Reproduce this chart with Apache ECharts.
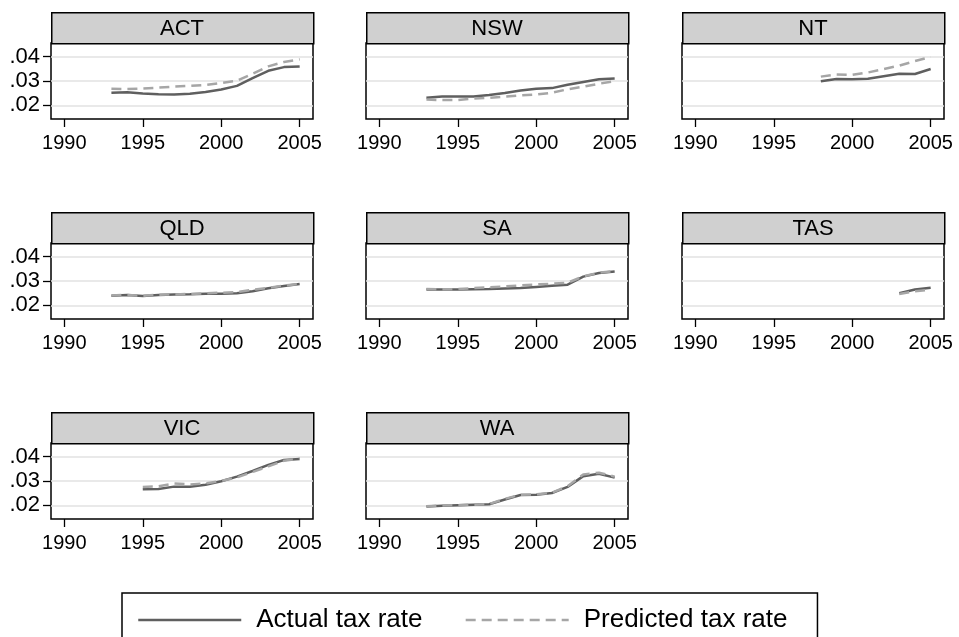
<!DOCTYPE html>
<html>
<head>
<meta charset="utf-8">
<script src="https://cdn.jsdelivr.net/npm/echarts@6/dist/echarts.min.js"></script>
<style>
  html, body { margin: 0; padding: 0; background: #ffffff; }
  #chart { width: 959px; height: 637px; }
</style>
</head>
<body>
<div id="chart"></div>
<script>
// Years covered by the panels (null = no observation for that state/year)
const years = [1993, 1994, 1995, 1996, 1997, 1998, 1999, 2000, 2001, 2002, 2003, 2004, 2005];
const states = ['ACT', 'NSW', 'NT', 'QLD', 'SA', 'TAS', 'VIC', 'WA'];

const actualACT    = [0.0252, 0.0254, 0.0249, 0.0246, 0.0245, 0.0248, 0.0255, 0.0265, 0.0280, 0.0312, 0.0342, 0.0357, 0.0360];
const predictedACT = [0.0268, 0.0267, 0.0269, 0.0273, 0.0277, 0.0280, 0.0284, 0.0292, 0.0301, 0.0330, 0.0360, 0.0378, 0.0389];

const actualNSW    = [0.0231, 0.0237, 0.0237, 0.0237, 0.0243, 0.0251, 0.0261, 0.0268, 0.0271, 0.0285, 0.0296, 0.0307, 0.0310];
const predictedNSW = [0.0224, 0.0222, 0.0222, 0.0228, 0.0231, 0.0236, 0.0241, 0.0245, 0.0252, 0.0266, 0.0277, 0.0289, 0.0299];

const actualNT     = [null, null, null, null, null, 0.0299, 0.0308, 0.0307, 0.0309, 0.0320, 0.0330, 0.0329, 0.0349];
const predictedNT  = [null, null, null, null, null, 0.0318, 0.0327, 0.0325, 0.0335, 0.0349, 0.0363, 0.0382, 0.0399];

const actualQLD    = [0.0240, 0.0243, 0.0239, 0.0243, 0.0245, 0.0246, 0.0248, 0.0248, 0.0250, 0.0258, 0.0270, 0.0280, 0.0288];
const predictedQLD = [0.0241, 0.0243, 0.0240, 0.0244, 0.0245, 0.0247, 0.0250, 0.0252, 0.0255, 0.0264, 0.0272, 0.0281, 0.0288];

const actualSA     = [0.0265, 0.0265, 0.0265, 0.0266, 0.0267, 0.0269, 0.0271, 0.0276, 0.0281, 0.0285, 0.0318, 0.0333, 0.0339];
const predictedSA  = [0.0267, 0.0266, 0.0267, 0.0271, 0.0274, 0.0278, 0.0282, 0.0286, 0.0289, 0.0293, 0.0319, 0.0334, 0.0341];

const actualTAS    = [null, null, null, null, null, null, null, null, null, null, 0.0250, 0.0265, 0.0272];
const predictedTAS = [null, null, null, null, null, null, null, null, null, null, 0.0247, 0.0258, 0.0264];

const actualVIC    = [null, null, 0.0266, 0.0267, 0.0277, 0.0277, 0.0285, 0.0299, 0.0318, 0.0341, 0.0366, 0.0386, 0.0390];
const predictedVIC = [null, null, 0.0276, 0.0278, 0.0290, 0.0286, 0.0290, 0.0300, 0.0315, 0.0337, 0.0360, 0.0383, 0.0392];

const actualWA     = [0.0196, 0.0199, 0.0201, 0.0203, 0.0205, 0.0224, 0.0243, 0.0244, 0.0251, 0.0276, 0.0320, 0.0330, 0.0314];
const predictedWA  = [0.0197, 0.0200, 0.0201, 0.0203, 0.0206, 0.0227, 0.0244, 0.0245, 0.0252, 0.0279, 0.0327, 0.0334, 0.0318];

const xTickLabels = [1990, 1995, 2000, 2005];
const yTickLabels = [0.02, 0.03, 0.04];
const seriesNames = ['Actual tax rate', 'Predicted tax rate'];

const actualByState = {
  ACT: actualACT, NSW: actualNSW, NT: actualNT, QLD: actualQLD,
  SA: actualSA, TAS: actualTAS, VIC: actualVIC, WA: actualWA
};
const predictedByState = {
  ACT: predictedACT, NSW: predictedNSW, NT: predictedNT, QLD: predictedQLD,
  SA: predictedSA, TAS: predictedTAS, VIC: predictedVIC, WA: predictedWA
};

// Panel layout (pixels)
const FONT = '"Liberation Sans", Arial, Helvetica, sans-serif';
const colLeft = [51, 366, 682];
const rowTop = [12, 212, 412];
const panelW = 262;
const headerH = 31;
const plotH = 76;
const xRange = [1989.15, 2005.85];
const yRange = [0.01444, 0.04558];

const grids = [], xAxes = [], yAxes = [], series = [], graphics = [];

const toPairs = (arr) => years.map((yr, k) => [yr, arr[k]]).filter(p => p[1] !== null);

states.forEach((st, i) => {
  const col = i % 3, row = Math.floor(i / 3);
  const left = colLeft[col];
  const top = rowTop[row];
  const firstCol = col === 0;

  grids.push({
    left: left, top: top + headerH, width: panelW, height: plotH,
    show: true, borderColor: '#000000', borderWidth: 1.5, backgroundColor: '#ffffff',
    containLabel: false
  });

  xAxes.push({
    type: 'value', gridIndex: i, min: xRange[0], max: xRange[1],
    axisLine: { show: false },
    axisTick: { show: true, customValues: xTickLabels, length: 8, lineStyle: { color: '#000', width: 1.3 } },
    axisLabel: { show: true, customValues: xTickLabels, margin: 14, fontSize: 20, color: '#000', fontFamily: FONT,
                 formatter: v => String(v) },
    splitLine: { show: false }
  });

  yAxes.push({
    type: 'value', gridIndex: i, min: yRange[0], max: yRange[1],
    axisLine: { show: false },
    axisTick: { show: firstCol, customValues: yTickLabels, length: 8, lineStyle: { color: '#000', width: 1.3 } },
    axisLabel: { show: firstCol, customValues: yTickLabels, margin: 11, fontSize: 22, color: '#000', fontFamily: FONT,
                 formatter: v => v.toFixed(2).replace(/^0/, '') },
    splitLine: { show: true, lineStyle: { color: '#e2e2e2', width: 1.5 } }
  });

  series.push({
    name: seriesNames[0], type: 'line', xAxisIndex: i, yAxisIndex: i,
    data: toPairs(actualByState[st]), showSymbol: false, symbol: 'none', smooth: false,
    lineStyle: { color: '#5f5f5f', width: 2.5 }, itemStyle: { color: '#5f5f5f' },
    z: 3, silent: true
  });
  series.push({
    name: seriesNames[1], type: 'line', xAxisIndex: i, yAxisIndex: i,
    data: toPairs(predictedByState[st]), showSymbol: false, symbol: 'none', smooth: false,
    lineStyle: { color: '#a6a6a6', width: 2.5, type: [10, 6] }, itemStyle: { color: '#a6a6a6' },
    z: 4, silent: true
  });

  // Panel header strip with state name
  graphics.push({
    type: 'rect', left: left, top: top,
    shape: { width: panelW, height: headerH },
    style: { fill: '#d0d0d0', stroke: '#000000', lineWidth: 1.5 }
  });
  graphics.push({
    type: 'text', x: left + panelW / 2, y: top + headerH / 2 + 1,
    style: { text: st, fill: '#000', font: '22px ' + FONT, textAlign: 'center', textVerticalAlign: 'middle' }
  });
});

const chart = echarts.init(document.getElementById('chart'), null, { renderer: 'canvas' });
chart.setOption({
  backgroundColor: '#ffffff',
  animation: false,
  grid: grids,
  xAxis: xAxes,
  yAxis: yAxes,
  series: series,
  graphic: graphics,
  legend: {
    data: seriesNames,
    left: 122, top: 593,
    orient: 'horizontal',
    itemWidth: 103, itemHeight: 14, itemGap: 42,
    padding: [14, 30, 20, 15],
    borderColor: '#000', borderWidth: 1.5,
    backgroundColor: '#ffffff',
    selectedMode: false,
    itemStyle: { opacity: 0 },
    lineStyle: { width: 2.5 },
    textStyle: { fontSize: 26, color: '#000', fontFamily: FONT, padding: [0, 0, 0, 10] }
  }
});
</script>
</body>
</html>
